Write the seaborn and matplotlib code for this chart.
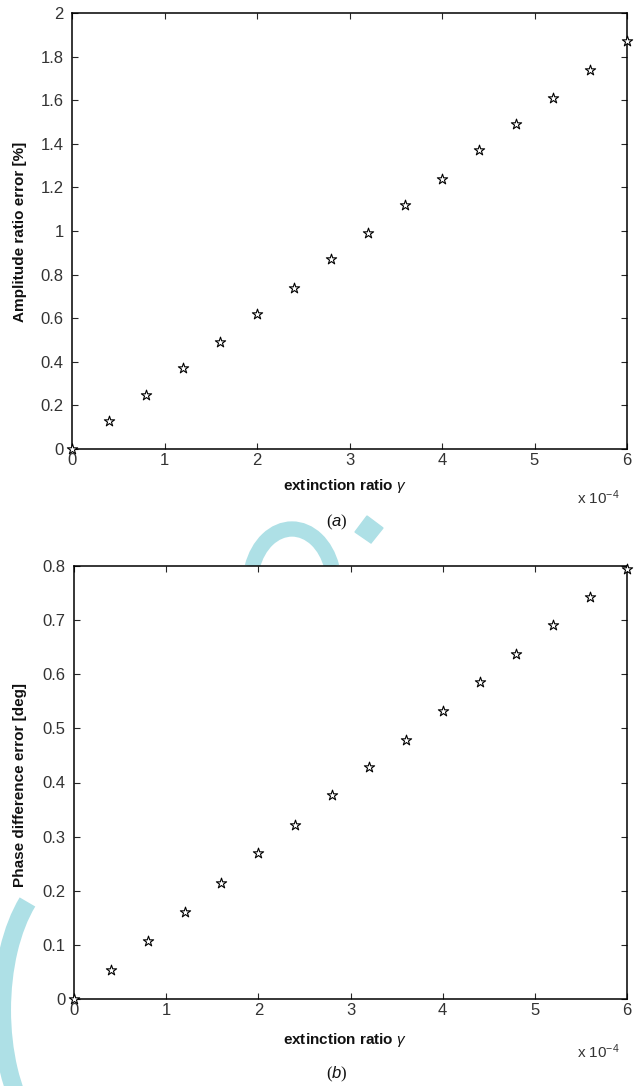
import numpy as np
import pandas as pd
import matplotlib
matplotlib.use("Agg")
import matplotlib.pyplot as plt
import seaborn as sns
from matplotlib.patches import Polygon, Arc

# ---- data (x in units of 1e-4) ----
gamma = [0.0, 0.4, 0.8, 1.2, 1.6, 2.0, 2.4, 2.8, 3.2, 3.6, 4.0, 4.4, 4.8, 5.2, 5.6, 6.0]
amp_err = [0.0, 0.13, 0.25, 0.37, 0.49, 0.62, 0.74, 0.87, 0.99, 1.12, 1.24, 1.37, 1.49, 1.61, 1.74, 1.87]
phase_err = [0.0, 0.054, 0.108, 0.161, 0.215, 0.269, 0.322, 0.376, 0.429, 0.479, 0.532, 0.585, 0.638, 0.691, 0.743, 0.795]

x_ticks = [0, 1, 2, 3, 4, 5, 6]
amp_ticks = [0, 0.2, 0.4, 0.6, 0.8, 1, 1.2, 1.4, 1.6, 1.8, 2]
amp_ticklabels = ["0", "0.2", "0.4", "0.6", "0.8", "1", "1.2", "1.4", "1.6", "1.8", "2"]
phase_ticks = [0, 0.1, 0.2, 0.3, 0.4, 0.5, 0.6, 0.7, 0.8]
phase_ticklabels = ["0", "0.1", "0.2", "0.3", "0.4", "0.5", "0.6", "0.7", "0.8"]

df_a = pd.DataFrame({"gamma": gamma, "err": amp_err})
df_b = pd.DataFrame({"gamma": gamma, "err": phase_err})

sns.set_style("ticks")
plt.rcParams["font.family"] = ["Liberation Sans", "DejaVu Sans"]
plt.rcParams["mathtext.fontset"] = "custom"
plt.rcParams["mathtext.rm"] = "Liberation Sans"
plt.rcParams["mathtext.it"] = "Liberation Sans:italic"

W, H = 639, 1086
fig = plt.figure(figsize=(W / 100, H / 100), dpi=100)
fig.patch.set_facecolor("white")

def px(x0, y0, x1, y1):
    return [x0 / W, 1 - y1 / H, (x1 - x0) / W, (y1 - y0) / H]

# ---- watermark (decorative, behind axes) ----
wm = "#aee0e6"
fig.patches.append(Arc((292 / W, 1 - 585 / H), 84 / W, 112 / H, theta1=15, theta2=165,
                       color=wm, lw=11, transform=fig.transFigure, zorder=-1))
fig.patches.append(Polygon([(367 / W, 1 - 516 / H), (383 / W, 1 - 528 / H), (371 / W, 1 - 543 / H), (355 / W, 1 - 532 / H)],
                           closed=True, color=wm, transform=fig.transFigure, zorder=-1))
fig.patches.append(Arc((72 / W, 1 - 1010 / H), 140 / W, 280 / H, theta1=125, theta2=235,
                       color=wm, lw=13, transform=fig.transFigure, zorder=-1))

ax1 = fig.add_axes(px(72, 13, 627, 449))
ax2 = fig.add_axes(px(74, 566, 627, 999))

tick_col = "#333333"

def style(ax, df, yticks, yticklabels, ylim, ylabel, panel, ylab_y, xlab_y, sub_y):
    ax.set_zorder(1)
    sns.scatterplot(data=df, x="gamma", y="err", ax=ax, marker="*", s=60,
                    facecolor="white", edgecolor="black", linewidth=0.8, clip_on=False, zorder=5)
    ax.set_xlim(0, 6)
    ax.set_ylim(*ylim)
    ax.set_xticks(x_ticks)
    ax.set_xticklabels([str(t) for t in x_ticks])
    ax.set_yticks(yticks)
    ax.set_yticklabels(yticklabels)
    ax.tick_params(direction="in", top=True, right=True, length=4, width=0.8,
                   labelsize=12, labelcolor=tick_col)
    ax.tick_params(axis="y", pad=6)
    ax.tick_params(axis="x", pad=3)
    for s in ax.spines.values():
        s.set_visible(True)
        s.set_color("black")
        s.set_linewidth(1.1)
    ax.set_xlabel("")
    ax.set_ylabel("")
    ax.set_facecolor("white")
    fig.text(20 / W, 1 - ylab_y / H, ylabel, rotation=90, ha="center", va="center",
             fontsize=11, fontweight="bold", color="#111111", zorder=5)
    fig.text(345 / W, 1 - xlab_y / H, "extinction ratio $\\gamma$", ha="center", va="center",
             fontsize=11, fontweight="bold", color="#111111")
    fig.text(598 / W, 1 - (xlab_y + 12) / H, "x 10$^{-4}$", ha="center", va="center",
             fontsize=11, color=tick_col)
    fig.text(337 / W, 1 - sub_y / H, panel, ha="center", va="center",
             fontsize=12, family="Liberation Serif", color="#111111", zorder=5)

style(ax1, df_a, amp_ticks, amp_ticklabels, (0, 2), "Amplitude ratio error [%]",
      "($a$)", 232, 486, 522)
style(ax2, df_b, phase_ticks, phase_ticklabels, (0, 0.8), "Phase difference error [deg]",
      "($b$)", 785, 1040, 1074)

fig.savefig("out.png", dpi=100)
